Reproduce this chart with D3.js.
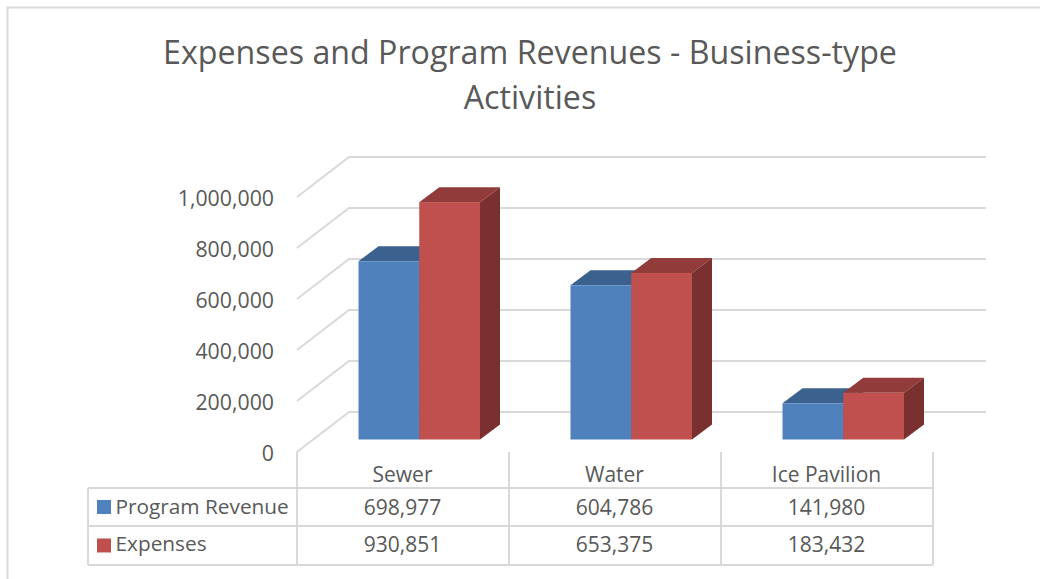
<!DOCTYPE html>
<html><head><meta charset="utf-8">
<script src="https://cdnjs.cloudflare.com/ajax/libs/d3/7.8.5/d3.min.js"></script>
<style>html,body{margin:0;padding:0;background:#fff;overflow:hidden}svg{display:block}text{font-family:"Open Sans",sans-serif;fill:#595959}</style>
</head><body><svg id="c" width="1040" height="579"></svg>
<script>
const categories=["Sewer","Water","Ice Pavilion"];
const seriesNames=["Program Revenue","Expenses"];
const programRevenue=[698977,604786,141980];
const expenses=[930851,653375,183432];
const yTicks=[0,200000,400000,600000,800000,1000000];
const titleLines=["Expenses and Program Revenues - Business-type","Activities"];
const colors={front:["#4f81bd","#c0504d"],top:["#3b618f","#913c3a"],side:["#2f4d71","#7a302e"]};
const grid="#d9d9d9";
const fmt=d3.format(",");
const svg=d3.select("#c");
const y=d3.scaleLinear().domain([0,1000000]).range([452,197]);
const x=d3.scaleBand().domain(categories).range([297,933]);
const sub=d3.scaleBand().domain(seriesNames).range([0,121.5]);
const depth={x:52,y:-40},barOff={x:16.25,y:-12.5},barDepth={x:20,y:-15};
const groupLeft=c=>x(c)+(x.bandwidth()-121.5)/2+barOff.x;

// frame
svg.append("path").attr("d","M7.5,579V7.5H1040").attr("fill","none").attr("stroke",grid).attr("stroke-width",2);
// title
svg.append("g").selectAll("text").data(titleLines).join("text")
 .attr("x",530).attr("y",(d,i)=>64+i*45).attr("text-anchor","middle").attr("font-size",32.2).text(d=>d);
// grid
const g=svg.append("g").attr("fill","none").attr("stroke",grid).attr("stroke-width",2);
yTicks.forEach(t=>{
 g.append("path").attr("d",`M${x.range()[0]},${y(t)}l${depth.x},${depth.y}H986`);
});
// y labels
svg.append("g").selectAll("text").data(yTicks).join("text")
 .attr("x",274).attr("y",d=>y(d)+9).attr("text-anchor","end").attr("font-size",21.3).text(fmt);
// bars
const series=[programRevenue,expenses];
categories.forEach((c,ci)=>{
 seriesNames.forEach((s,si)=>{
  const v=series[si][ci],x0=groupLeft(c)+sub(s),w=sub.bandwidth();
  const y0=y(0)+barOff.y,yt=y(v)+barOff.y,h=y0-yt;
  const b=svg.append("g");
  b.append("path").attr("fill",colors.top[si]).attr("d",`M${x0},${yt}l${barDepth.x},${barDepth.y}h${w}l${-barDepth.x},${-barDepth.y}z`);
  b.append("path").attr("fill",colors.side[si]).attr("d",`M${x0+w},${yt}l${barDepth.x},${barDepth.y}v${h}l${-barDepth.x},${-barDepth.y}z`);
  b.append("rect").attr("x",x0).attr("y",yt).attr("width",w).attr("height",h).attr("fill",colors.front[si]);
 });
});
// table
const rows=[488,526,565],tl=88;
const t=svg.append("g").attr("fill","none").attr("stroke",grid).attr("stroke-width",2);
rows.forEach(r=>t.append("path").attr("d",`M${tl},${r}H933`));
t.append("path").attr("d",`M${tl},${rows[0]}V${rows[2]}`);
[...categories.map(c=>x(c)),x.range()[1]].forEach(p=>t.append("path").attr("d",`M${p},452V${rows[2]}`));
svg.append("g").selectAll("text").data(categories).join("text")
 .attr("x",c=>x(c)+x.bandwidth()/2-0.5).attr("y",482).attr("text-anchor","middle").attr("font-size",21).text(d=>d);
seriesNames.forEach((s,si)=>{
 const cy=(rows[si]+rows[si+1])/2;
 svg.append("rect").attr("x",97).attr("y",cy-7).attr("width",14).attr("height",14).attr("fill",colors.front[si]);
 svg.append("text").attr("x",115.5).attr("y",cy+7-si*1.5).attr("font-size",20.8).text(s);
 categories.forEach((c,ci)=>{
  svg.append("text").attr("x",x(c)+x.bandwidth()/2-0.5).attr("y",cy+7.5-si).attr("text-anchor","middle").attr("font-size",21).text(fmt(series[si][ci]));
 });
});
</script></body></html>
